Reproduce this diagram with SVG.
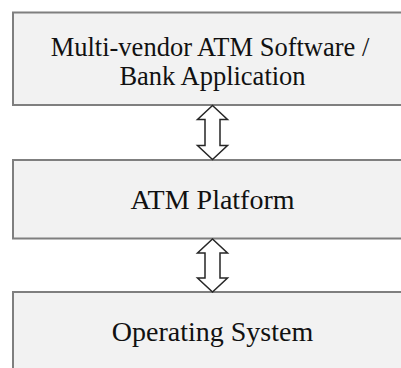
<svg xmlns="http://www.w3.org/2000/svg" width="401" height="368" viewBox="0 0 401 368">
  <style>
    .box { fill: #f2f2f2; stroke: #7f7f7f; stroke-width: 2; }
    .label { font-family: "Liberation Serif", "Times New Roman", serif; font-size: 28px; fill: #111111; text-anchor: middle; }
    .label.two { font-size: 26.5px; }
    .dbl { fill: #ffffff; stroke: #262626; stroke-width: 1.5; stroke-linejoin: miter; }
  </style>

  <!-- Layer stack -->
  <g id="node-app">
    <rect class="box" x="13" y="12.5" width="400" height="92.5"/>
    <text class="label two" x="210" y="55.5">Multi-vendor ATM Software /</text>
    <text class="label two" x="212.5" y="85">Bank Application</text>
  </g>

  <g id="node-platform">
    <rect class="box" x="13" y="160" width="400" height="78.5"/>
    <text class="label" x="212.5" y="209">ATM Platform</text>
  </g>

  <g id="node-os">
    <rect class="box" x="13" y="292" width="400" height="90"/>
    <text class="label" x="212.5" y="340.5">Operating System</text>
  </g>

  <!-- Double-headed block arrows between layers -->
  <g id="connectors">
    <path class="dbl" d="M212.5,105.5 L227.5,119.5 L220,119.5 L220,145.5 L227.5,145.5 L212.5,159.5 L197.5,145.5 L205,145.5 L205,119.5 L197.5,119.5 Z"/>
    <path class="dbl" d="M212.5,239 L227.5,253 L220,253 L220,278 L227.5,278 L212.5,292 L197.5,278 L205,278 L205,253 L197.5,253 Z"/>
  </g>
</svg>
